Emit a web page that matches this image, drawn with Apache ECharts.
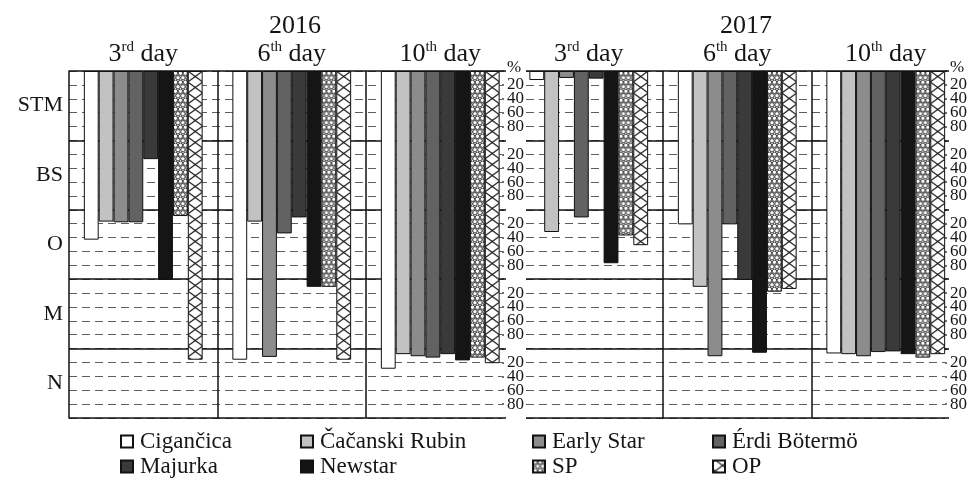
<!DOCTYPE html>
<html><head><meta charset="utf-8">
<script src="https://cdn.jsdelivr.net/npm/echarts@6/dist/echarts.min.js"></script>
<style>html,body{margin:0;padding:0;background:#fff}#c{width:971px;height:483px}</style>
</head><body><div id="c"></div>
<script>
// ---------- data ----------
const cultivars = ['Cigančica','Čačanski Rubin','Early Star','Érdi Bötermö','Majurka','Newstar','SP','OP'];
const stages = ['STM','BS','O','M','N'];
const days = ['3rd day','6th day','10th day'];
const years = ['2016','2017'];
// cumulative position along the stages (each stage = 100 %), in cultivar order
const y2016_day3  = [243, 217, 218, 218, 127, 301, 209, 416];
const y2016_day6  = [416, 217, 412, 234, 211, 311, 311, 416];
const y2016_day10 = [429, 408, 411, 413, 408, 417, 413, 421];
const y2017_day3  = [13, 232, 10, 211, 11, 277, 237, 251];
const y2017_day6  = [221, 311, 411, 221, 301, 406, 318, 314];
const y2017_day10 = [407, 408, 411, 405, 404, 408, 413, 408];

// ---------- layout / style ----------
const FONT = '"Liberation Serif", "Times New Roman", serif';
const TXT = '#151515';
const TOP = 71, H = 347, BAND = 148.5;
const LB = 69, LD = LB + BAND * 3;       // bar grids
const LA = 69, WA = 433, LC = 526, WC = 419; // frame grids
const barW = BAND * 0.8 / 8;

function spCanvas() {
  const c = document.createElement('canvas'); c.width = 15; c.height = 9;
  const g = c.getContext('2d');
  g.fillStyle = '#fff'; g.fillRect(0, 0, 15, 9);
  g.strokeStyle = '#222'; g.lineWidth = 0.9;
  [[2.5,2.25],[7.5,2.25],[12.5,2.25],[0,6.75],[5,6.75],[10,6.75],[15,6.75]].forEach(p => {
    g.beginPath(); g.arc(p[0], p[1], 2.2, 0, Math.PI * 2); g.stroke();
  });
  return c;
}
function opCanvas() {
  const c = document.createElement('canvas'); c.width = 15; c.height = 11;
  const g = c.getContext('2d');
  g.fillStyle = '#fff'; g.fillRect(0, 0, 15, 11);
  g.strokeStyle = '#111'; g.lineWidth = 1.1;
  g.beginPath(); g.moveTo(0, 0); g.lineTo(15, 11); g.moveTo(15, 0); g.lineTo(0, 11); g.stroke();
  return c;
}
const patX = LB % barW;
const pat = (cv) => ({ image: cv, repeat: 'repeat', x: patX, y: TOP, scaleX: barW / 15, scaleY: 1 });
const colors = ['#ffffff', '#c2c2c2', '#8c8c8c', '#626262', '#3a3a3a', '#151515', pat(spCanvas()), pat(opCanvas())];

function fmtDay(v) {
  const m = v.match(/^(\d+)(\D+) (.+)$/);
  return '{n|' + m[1] + '}{s|' + m[2] + '}{n| ' + m[3] + '}';
}
function fmtPct(v) { return v === 0 ? '{p|%}' : (v % 100 === 0 ? '' : String(v % 100)); }

const grids = [
  { left: LA, top: TOP, width: WA, height: H },
  { left: LB, top: TOP, width: BAND * 3, height: H },
  { left: LC, top: TOP, width: WC, height: H },
  { left: LD, top: TOP, width: BAND * 3, height: H }
];

function dayAxis(gi) {
  return {
    gridIndex: gi, type: 'category', data: days, position: 'top', boundaryGap: true,
    axisLine: { show: false, onZero: false }, axisTick: { show: false },
    axisLabel: {
      interval: 0, margin: 3, formatter: fmtDay,
      rich: {
        n: { fontSize: 26, fontFamily: FONT, color: TXT, lineHeight: 28 },
        s: { fontSize: 15, fontFamily: FONT, color: TXT, lineHeight: 15, verticalAlign: 'top' }
      }
    },
    splitLine: { show: true, interval: 0, showMinLine: false, showMaxLine: false, lineStyle: { color: '#111', width: 1.5 } }
  };
}
const xAxis = [
  { gridIndex: 0, type: 'category', data: [''], show: false },
  dayAxis(1),
  { gridIndex: 2, type: 'category', data: [''], show: false },
  dayAxis(3)
];

function frameAxes(gi, withLabels) {
  return [
    { gridIndex: gi, type: 'value', position: 'left', min: 0, max: 500, interval: 20, inverse: true, z: 0,
      axisLine: { show: false, onZero: false }, axisTick: { show: false }, axisLabel: { show: false },
      splitLine: { show: true, lineStyle: { color: '#5e5e5e', width: 1.1, type: [8, 5] } } },
    { gridIndex: gi, type: 'category', position: 'left', data: stages, inverse: true, z: 1,
      axisLine: { show: withLabels, onZero: false, lineStyle: { color: '#111', width: 1.5 } },
      axisTick: { show: false },
      axisLabel: { show: withLabels, interval: 0, fontSize: 22, fontFamily: FONT, color: TXT, margin: 6 },
      splitLine: { show: true, interval: 0, lineStyle: { color: '#111', width: 1.5 } } },
    { gridIndex: gi, type: 'value', position: 'right', min: 0, max: 500, interval: 20, inverse: true,
      axisLine: { show: false, onZero: false },
      axisTick: { show: true, length: 2, lineStyle: { color: '#444', width: 1.5 } },
      axisLabel: { formatter: fmtPct, fontSize: 17, fontFamily: FONT, color: TXT, margin: 5,
        showMinLabel: true, showMaxLabel: false, hideOverlap: false,
        rich: { p: { fontSize: 17, fontFamily: FONT, color: TXT, padding: [0, 0, 6, 0] } } },
      splitLine: { show: false } },
    { gridIndex: gi, type: 'value', position: 'right', min: 0, max: 500, interval: 100, inverse: true,
      axisLine: { show: false, onZero: false },
      axisTick: { show: true, length: 4, lineStyle: { color: '#111', width: 1.5 } },
      axisLabel: { show: false }, splitLine: { show: false } }
  ];
}
const yAxis = [].concat(
  frameAxes(0, true),                                                                   // 0..3
  [{ gridIndex: 1, type: 'value', min: 0, max: 500, inverse: true, show: false, position: 'left' }], // 4
  frameAxes(2, false),                                                                  // 5..8
  [{ gridIndex: 3, type: 'value', min: 0, max: 500, inverse: true, show: false, position: 'left' }]  // 9
);

const series = [];
cultivars.forEach((name, i) => {
  const common = {
    name, type: 'bar', barGap: '0%', barCategoryGap: '20%',
    itemStyle: { color: colors[i], borderColor: '#111', borderWidth: 1 },
    emphasis: { disabled: true }, z: 2
  };
  series.push(Object.assign({}, common, { xAxisIndex: 1, yAxisIndex: 4,
    data: [y2016_day3[i], y2016_day6[i], y2016_day10[i]] }));
  series.push(Object.assign({}, common, { xAxisIndex: 3, yAxisIndex: 9,
    data: [y2017_day3[i], y2017_day6[i], y2017_day10[i]] }));
});

const legendX = [120, 300, 532, 712];
const legend = [0, 1, 2, 3].map(c => ({
  data: [cultivars[c], cultivars[c + 4]], orient: 'vertical', left: legendX[c], top: 429,
  height: 54, padding: 0,
  itemWidth: 12, itemHeight: 12, itemGap: 0, icon: 'rect', selectedMode: false,
  textStyle: { fontFamily: FONT, fontSize: 23, color: TXT, lineHeight: 25, padding: [0, 0, 0, 2] }
}));

const chart = echarts.init(document.getElementById('c'), null, { renderer: 'canvas' });
chart.setOption({
  animation: false,
  backgroundColor: '#fff',
  grid: grids, xAxis, yAxis, series, legend,
  graphic: [
    { type: 'text', x: 295, y: 26, style: { text: years[0], font: '26px ' + FONT, fill: TXT, textAlign: 'center', textVerticalAlign: 'middle' } },
    { type: 'text', x: 746, y: 26, style: { text: years[1], font: '26px ' + FONT, fill: TXT, textAlign: 'center', textVerticalAlign: 'middle' } }
  ]
});
</script></body></html>
